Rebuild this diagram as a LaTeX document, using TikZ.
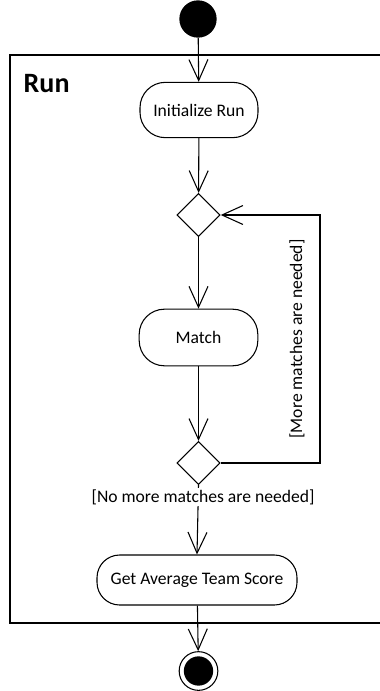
\documentclass[tikz,border=0pt]{standalone}
\usepackage{fontspec}
\setmainfont{Carlito}
\usepackage{tikz}
\usetikzlibrary{arrows.meta, shapes.geometric}

\tikzset{
    action/.style={draw, thick, rectangle, rounded corners=19pt, align=center,
        font=\fontsize{13.2}{16}\selectfont},
    decision/.style={draw, thick, diamond, inner sep=0pt, minimum width=32.5pt, minimum height=32.5pt},
    flow/.style={-{Straight Barb[length=15.75pt, width=14.25pt]}, thick},
    guard/.style={font=\fontsize{13.2}{16}\selectfont, fill=white, inner sep=1pt}
}

\begin{document}
\begin{tikzpicture}[x=0.75pt, y=-0.75pt]
    \useasboundingbox (0, 0) rectangle (379, 691);

    % frame of the activity
    \draw[line width=1.1pt] (385, 55) -- (10, 55) -- (10, 623) -- (385, 623);
    \node[anchor=base west, font=\fontsize{21}{24}\selectfont\bfseries] at (19, 93) (title) {Run};

    \node[circle, fill=black, minimum size=28pt, inner sep=0pt] at (198, 19) (start) {};
    \node[action, minimum width=88.5pt, minimum height=41.5pt] at (199, 110) (init) {Initialize Run};
    \node[decision] at (198.5, 215) (dec1) {};
    \node[action, minimum width=89pt, minimum height=42.5pt] at (198.5, 337.5) (match) {Match};
    \node[decision] at (198.5, 463) (dec2) {};
    \node[action, rounded corners=17pt, minimum width=150pt, minimum height=37.5pt] at (197, 580) (avg) {Get Average Team Score};
    \node[circle, draw, thick, minimum size=29pt, inner sep=0pt] at (198.5, 671) (stop) {};
    \node[circle, fill=black, minimum size=22pt, inner sep=0pt] at (stop) (stopdot) {};

    \coordinate (loopbot) at (320, 463);
    \coordinate (looptop) at (320, 215);

    \draw[flow] (start) -- (init);
    \draw[flow] (init) -- (dec1);
    \draw[flow] (dec1) -- (match);
    \draw[flow] (match) -- (dec2);
    \draw[flow] (dec2.east) -- (loopbot) -- (looptop) -- (dec1.east);
    \draw[flow] (dec2.south) -- (avg.north);
    \draw[flow] (avg) -- (stop);

    \node[guard] at (203, 497) (nomore) {[No more matches are needed]};
    \node[guard, rotate=90, fill=none] at (297, 339) (more) {[More matches are needed]};
\end{tikzpicture}
\end{document}
